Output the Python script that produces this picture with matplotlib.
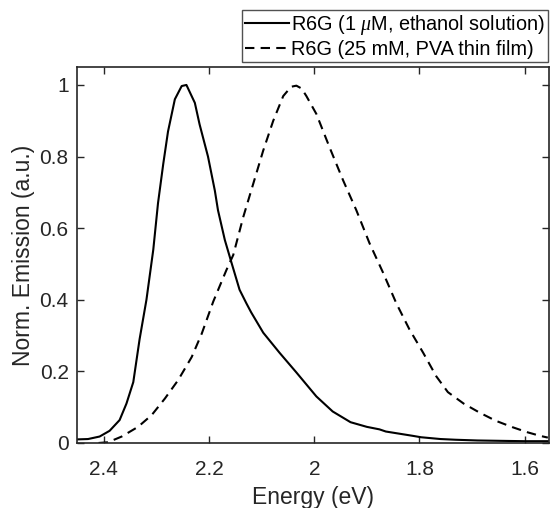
import matplotlib
matplotlib.use('Agg')
import matplotlib.pyplot as plt
from matplotlib.ticker import FormatStrFormatter

plt.rcParams['font.family'] = ['Liberation Sans', 'DejaVu Sans']
plt.rcParams['mathtext.fontset'] = 'custom'
plt.rcParams['mathtext.it'] = 'Liberation Serif:italic'

# R6G in ethanol (1 uM), energy in eV and normalised emission
sol_energy = [2.451, 2.430, 2.408, 2.389, 2.370, 2.357, 2.344, 2.332, 2.319,
              2.306, 2.297, 2.287, 2.278, 2.265, 2.252, 2.243, 2.227, 2.218,
              2.202, 2.189, 2.183, 2.170, 2.157, 2.142, 2.129, 2.120, 2.097,
              2.066, 2.034, 1.996, 1.965, 1.931, 1.900, 1.876, 1.864, 1.813,
              1.797, 1.760, 1.731, 1.690, 1.647, 1.600, 1.556]
sol_emission = [0.010, 0.011, 0.018, 0.034, 0.064, 0.110, 0.170, 0.290, 0.400,
                0.540, 0.670, 0.780, 0.870, 0.960, 0.997, 1.000, 0.950, 0.890,
                0.800, 0.705, 0.650, 0.567, 0.502, 0.428, 0.390, 0.365, 0.308,
                0.252, 0.197, 0.130, 0.088, 0.058, 0.045, 0.038, 0.032, 0.020,
                0.016, 0.011, 0.009, 0.007, 0.006, 0.005, 0.005]

# R6G in PVA thin film (25 mM)
film_energy = [2.410, 2.392, 2.366, 2.335, 2.309, 2.284, 2.259, 2.233, 2.214,
               2.192, 2.167, 2.154, 2.135, 2.116, 2.097, 2.078, 2.059, 2.044,
               2.034, 2.024, 2.015, 1.996, 1.971, 1.945, 1.920, 1.895, 1.869,
               1.844, 1.819, 1.793, 1.768, 1.746, 1.716, 1.686, 1.655, 1.623,
               1.595, 1.571, 1.556]
film_emission = [0.000, 0.002, 0.018, 0.045, 0.078, 0.124, 0.175, 0.240, 0.305,
                 0.395, 0.483, 0.525, 0.631, 0.724, 0.817, 0.900, 0.969, 0.995,
                 0.998, 0.990, 0.969, 0.919, 0.826, 0.733, 0.650, 0.558, 0.475,
                 0.390, 0.317, 0.252, 0.186, 0.142, 0.110, 0.085, 0.062, 0.044,
                 0.030, 0.020, 0.015]

x_ticks = [2.4, 2.2, 2.0, 1.8, 1.6]
y_ticks = [0, 0.2, 0.4, 0.6, 0.8, 1.0]
labels = ['R6G (1 $\\mu$M, ethanol solution)', 'R6G (25 mM, PVA thin film)']

grey = '#262626'

fig = plt.figure(figsize=(5.5, 5.08), dpi=100)
ax = fig.add_axes([0.14, 0.128, 0.858, 0.74])

ax.plot(sol_energy, sol_emission, color='black', lw=1.5, label=labels[0])
ax.plot(film_energy, film_emission, color='black', lw=1.5, dashes=(4.5, 3),
        label=labels[1])

ax.set_xlim(2.451, 1.554)
ax.set_ylim(0, 1.05)
ax.set_xticks(x_ticks)
ax.set_yticks(y_ticks)
ax.xaxis.set_major_formatter(FormatStrFormatter('%g'))
ax.yaxis.set_major_formatter(FormatStrFormatter('%g'))
ax.tick_params(direction='in', top=True, right=True, length=5, width=1,
               colors=grey, labelsize=15)
ax.tick_params(axis='x', pad=12)
ax.tick_params(axis='y', pad=6)
for s in ax.spines.values():
    s.set_color(grey)
    s.set_linewidth(1.2)

ax.set_xlabel('Energy (eV)', fontsize=16.5, color=grey, labelpad=5)
ax.set_ylabel('Norm. Emission (a.u.)', fontsize=16.5, color=grey, labelpad=3)

leg = fig.legend(loc='upper right', bbox_to_anchor=(548 / 550, 1 - 10 / 508),
                 fontsize=14.3, frameon=True, fancybox=False, borderpad=0.15,
                 handlelength=2.2, handletextpad=0.12, labelspacing=0.15,
                 borderaxespad=0)
leg.get_frame().set_edgecolor(grey)
leg.get_frame().set_linewidth(1.0)
for t in leg.get_texts():
    t.set_color('black')

fig.savefig('out.png', dpi=100)
